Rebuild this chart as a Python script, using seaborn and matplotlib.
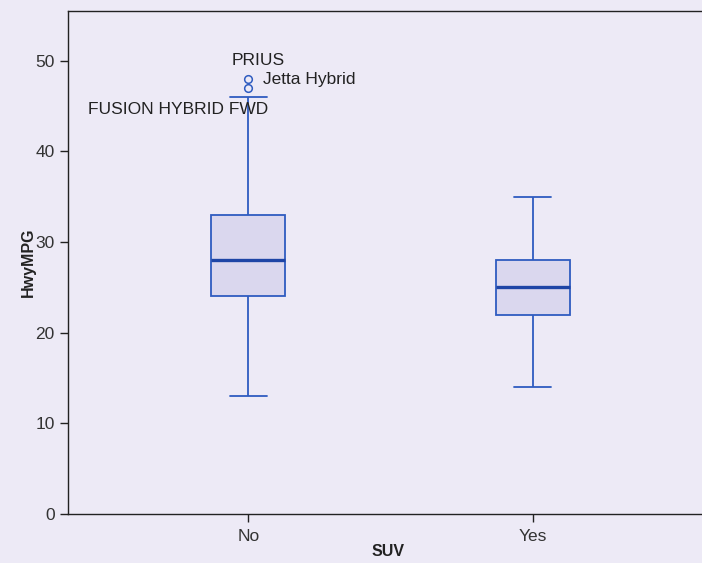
import matplotlib
matplotlib.use("Agg")
import matplotlib.pyplot as plt
import seaborn as sns
import pandas as pd
from matplotlib import font_manager

# ---- data ----
suv_no = [13, 18, 22, 24, 25, 27, 28, 30, 32, 33, 46, 47, 48]
suv_yes = [14, 18, 22, 23, 25, 26, 28, 31, 35]
categories = ["No", "Yes"]
labels = ["PRIUS", "Jetta Hybrid", "FUSION HYBRID FWD"]
label_pos = [(0.035, 50.0), (0.05, 47.9), (0.07, 44.6)]
label_ha = ["center", "left", "right"]
yticks = [0, 10, 20, 30, 40, 50]

df = pd.DataFrame({
    "SUV": ["No"] * len(suv_no) + ["Yes"] * len(suv_yes),
    "HwyMPG": suv_no + suv_yes,
})

sns.set_theme(style="white")
avail = {f.name for f in font_manager.fontManager.ttflist}
fam = [f for f in ["Liberation Sans Narrow", "Liberation Sans", "DejaVu Sans"] if f in avail]
plt.rcParams["font.family"] = fam

bg = "#EDEAF6"
fig = plt.figure(figsize=(7.02, 5.63), dpi=100, facecolor=bg)
ax = fig.add_axes([68 / 702, (563 - 514) / 563, 1 - 68 / 702 + 0.01, (514 - 11) / 563])
ax.set_facecolor(bg)

edge = "#2F5CC0"
sns.boxplot(data=df, x="SUV", y="HwyMPG", order=categories, ax=ax, width=0.26,
            color="#DAD7EE", linecolor=edge, linewidth=1.3, whis=1.5,
            medianprops=dict(color="#1E45A6", linewidth=2.4),
            flierprops=dict(marker="o", markersize=5.5, markerfacecolor="none",
                            markeredgecolor=edge, markeredgewidth=1.1))
for b in ax.patches:
    b.set_facecolor("#DAD7EE")

for t, (x, y), ha in zip(labels, label_pos, label_ha):
    ax.text(x, y, t, ha=ha, va="center", fontsize=12.5, color="#222222")

ax.set_ylim(0, 55.5)
ax.set_xlim(-0.634, 1.62)
ax.set_yticks(yticks)
ax.tick_params(axis="both", which="both", direction="out", length=6, width=1,
               color="#222222", labelsize=12.5, labelcolor="#333333", left=True, bottom=True)
ax.tick_params(axis="x", pad=5)
for s in ["left", "bottom", "top"]:
    ax.spines[s].set_visible(True)
    ax.spines[s].set_color("#222222")
    ax.spines[s].set_linewidth(1.0)
ax.spines["right"].set_visible(False)

ax.set_xlabel("SUV", fontsize=11.5, fontweight="bold", color="#222222", labelpad=0)
ax.set_ylabel("HwyMPG", fontsize=11.5, fontweight="bold", color="#222222", labelpad=0)

fig.savefig("out.png", dpi=100, facecolor=bg)
